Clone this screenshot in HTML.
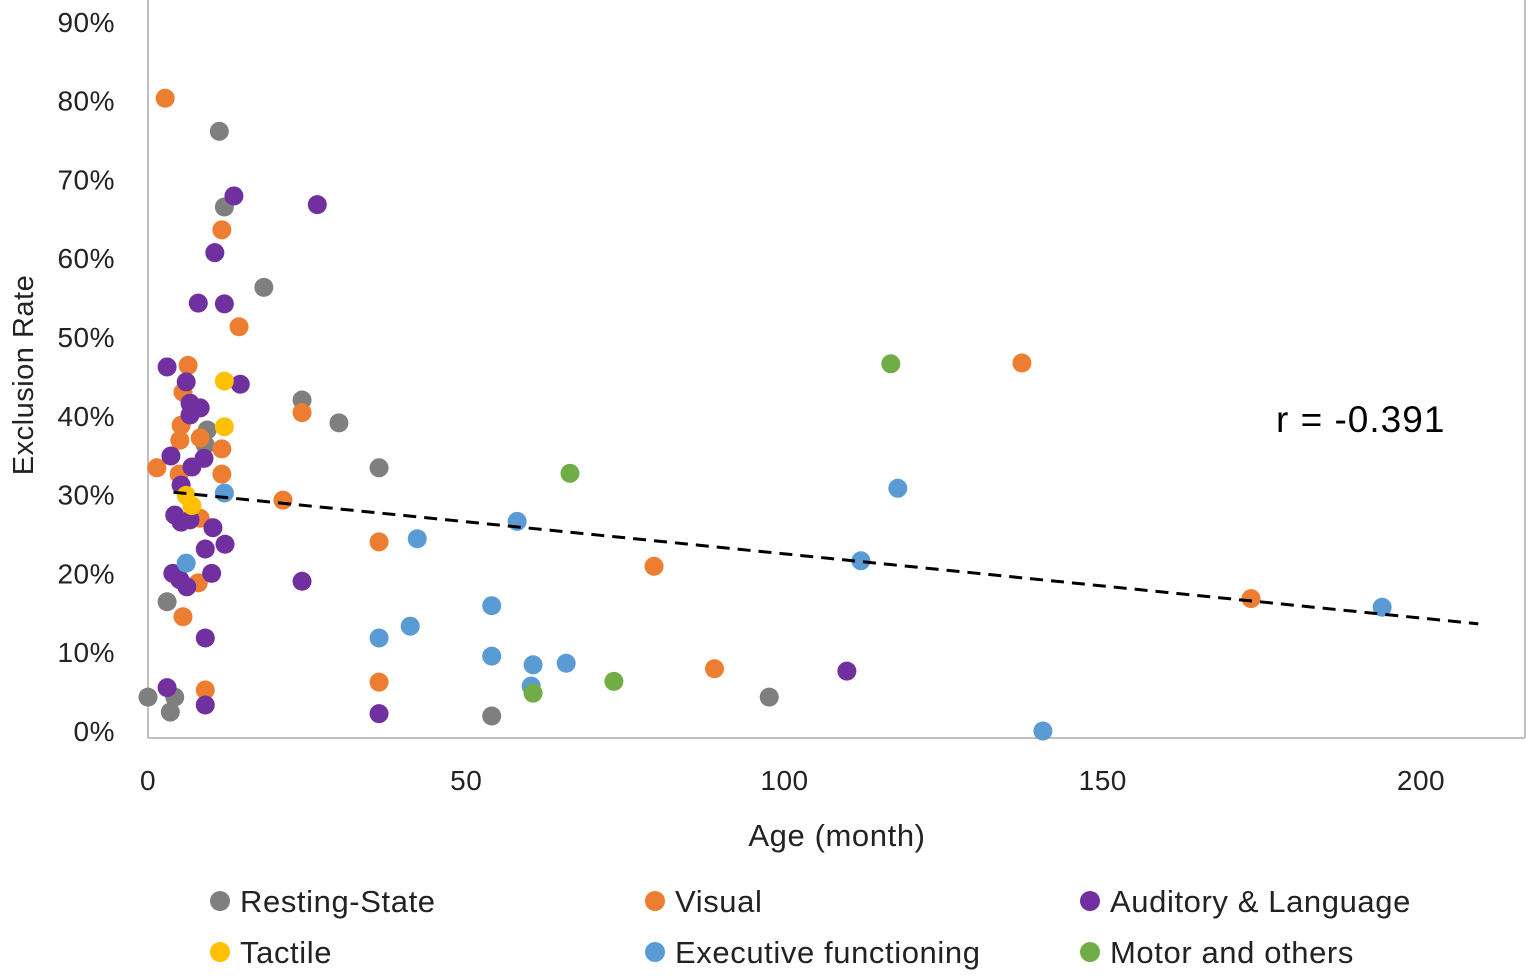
<!DOCTYPE html>
<html><head><meta charset="utf-8"><style>
html,body{margin:0;padding:0;background:#fff;}
svg{display:block;font-family:"Liberation Sans",sans-serif;}
</style></head><body>
<svg id="chart" width="1535" height="979">
<line x1="148" y1="0" x2="148" y2="738" stroke="#bfbfbf" stroke-width="2"/>
<line x1="148" y1="738" x2="1525" y2="738" stroke="#bfbfbf" stroke-width="2"/>
<line x1="1525" y1="0" x2="1525" y2="738" stroke="#bfbfbf" stroke-width="2"/>
<g id="yticks"></g><g id="xticks"></g>
<text x="837" y="846" font-size="31" letter-spacing="0.6" text-anchor="middle" fill="#222">Age (month)</text>
<text transform="translate(33,375) rotate(-90)" font-size="29" letter-spacing="0.5" text-anchor="middle" fill="#222">Exclusion Rate</text>
<g id="marks"></g>
<line id="trend" stroke="#000" stroke-width="3" stroke-dasharray="13,8"/>
<text x="1276" y="432" font-size="37" letter-spacing="1" fill="#000">r = -0.391</text>
<g id="legend"></g>
</svg>
<script>
const yTicks=[0,10,20,30,40,50,60,70,80,90];
const xTicks=[0,50,100,150,200];
const seriesNames=["Resting-State","Visual","Auditory & Language","Tactile","Executive functioning","Motor and others"];
const seriesColors=["#7f7f7f","#ed7d31","#7030a0","#ffc000","#5b9bd5","#70ad47"];
const resting=[[0,4.3],[3,16.4],[3.5,2.4],[4.2,4.3],[11.2,76.1],[12,66.5],[18.2,56.3],[24.2,42],[30,39.1],[36.3,33.4],[54,1.9],[97.6,4.3],[9.3,38.2],[9,36.3]];
const visual=[[2.7,80.3],[11.6,63.6],[14.3,51.3],[6.3,46.4],[5.5,43],[1.4,33.4],[5.2,38.8],[8.2,37.2],[5,36.9],[11.6,35.8],[11.6,32.6],[4.9,32.6],[21.2,29.3],[24.2,40.4],[8.2,27],[7.9,18.8],[5.5,14.5],[9,5.2],[36.3,24],[36.3,6.2],[79.5,20.9],[89,7.9],[137.3,46.7],[173.3,16.8]];
const auditory=[[3,46.2],[6,44.3],[14.5,44],[13.5,67.9],[26.6,66.8],[10.5,60.7],[7.9,54.3],[12,54.2],[6.6,41.6],[8.2,41],[6.6,40.1],[3.6,34.9],[8.8,34.6],[6.9,33.5],[5.2,31.2],[4.2,27.4],[5.2,26.5],[6.6,26.8],[10.2,25.8],[12.1,23.7],[9,23.1],[10,20],[3.9,20],[5,19.2],[6.1,18.3],[24.2,19],[9,11.8],[3,5.5],[9,3.3],[36.3,2.2],[109.8,7.6]];
const tactile=[[12,44.4],[12,38.6],[6,29.9],[6.9,28.6]];
const executive=[[12,30.2],[6,21.3],[58,26.6],[42.3,24.4],[54,15.9],[36.3,11.8],[41.2,13.3],[54,9.5],[60.5,8.4],[65.7,8.6],[60.2,5.7],[112,21.6],[117.8,30.8],[140.6,0],[193.9,15.7]];
const motor=[[116.7,46.6],[66.3,32.7],[73.2,6.3],[60.5,4.8]];
const trendX=[4,209];
const trendY=[30.3,13.6];
const NS="http://www.w3.org/2000/svg";
const xs=v=>148+v*6.365;
const ys=v=>731-v*7.88;
function mk(t,a){const e=document.createElementNS(NS,t);for(const k in a)e.setAttribute(k,a[k]);return e;}
const yg=document.getElementById('yticks');
yTicks.forEach(v=>{const t=mk('text',{x:115,y:ys(v)+10,'font-size':28,'letter-spacing':0.5,'text-anchor':'end',fill:'#222'});


t.textContent=v+'%';yg.appendChild(t);});
const xg=document.getElementById('xticks');
xTicks.forEach(v=>{const t=mk('text',{x:xs(v),y:790,'font-size':28,'letter-spacing':0.5,'text-anchor':'middle',fill:'#222'});


t.textContent=v;xg.appendChild(t);});
const all=[resting,visual,auditory,tactile,executive,motor];
const mg=document.getElementById('marks');
all.forEach((s,i)=>{s.forEach(p=>{const c=mk('circle',{cx:xs(p[0]),cy:ys(p[1]),r:9.5,fill:seriesColors[i]});


mg.appendChild(c);});});
const tl=document.getElementById('trend');
tl.setAttribute('x1',xs(trendX[0]));tl.setAttribute('y1',ys(trendY[0]));
tl.setAttribute('x2',xs(trendX[1]));tl.setAttribute('y2',ys(trendY[1]));
const lg=document.getElementById('legend');
const lx=[220,655,1090],ly=[901,952];
seriesNames.forEach((n,i)=>{const g=mk('g',{});


const x=lx[i%3],y=ly[Math.floor(i/3)];
g.appendChild(mk('circle',{cx:x,cy:y,r:10,fill:seriesColors[i]}));
const t=mk('text',{x:x+20,y:y+11,'font-size':31,'letter-spacing':0.6,fill:'#222'});t.textContent=n;g.appendChild(t);
lg.appendChild(g);});
</script>
</body></html>
